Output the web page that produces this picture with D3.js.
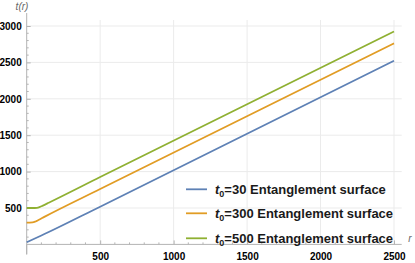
<!DOCTYPE html>
<html lang="en">
<head>
    <meta charset="UTF-8">
    <title>t(r) Entanglement surface</title>
    <script src="https://d3js.org/d3.v7.min.js"></script>
    <style>
        body {
            margin: 0;
            background-color: white;
        }
        svg text {
            font-family: "Liberation Sans", Arial, sans-serif;
        }
    </style>
</head>
<body>
    <div id="chart"></div>
    <script>
        // values
        const xTicks = [500, 1000, 1500, 2000, 2500];
        const yTicks = [500, 1000, 1500, 2000, 2500, 3000];

        const rBlue = [0, 100, 500, 2500];
        const tBlue = [30, 122, 518, 2523];

        const rOrange = [0, 20, 40, 60, 80, 120, 500, 2500];
        const tOrange = [300, 300, 302, 315, 335, 378, 761, 2762];

        const rGreen = [0, 40, 70, 90, 110, 150, 500, 2500];
        const tGreen = [500, 500, 503, 515, 533, 572, 925, 2925];

        const seriesLabels = ["30", "300", "500"];
        const colors = ["#5e81b5", "#e19c24", "#8fb032"];

        const width = 415, height = 263;

        const x = d3.scaleLinear().domain([0, 2500]).range([26.7, 394]);
        const y = d3.scaleLinear().domain([0, 3000]).range([244.4, 26]);

        const svg = d3.select("#chart").append("svg")
            .attr("width", width)
            .attr("height", height);

        const plotTop = 20, plotRight = 401.7;

        // grid lines
        svg.append("g").selectAll("line.gx")
            .data(xTicks)
            .join("line")
            .attr("x1", d => x(d)).attr("x2", d => x(d))
            .attr("y1", plotTop).attr("y2", y(0))
            .attr("stroke", "#ebebeb").attr("stroke-width", 1);
        svg.append("g").selectAll("line.gy")
            .data(yTicks)
            .join("line")
            .attr("x1", x(0)).attr("x2", plotRight)
            .attr("y1", d => y(d)).attr("y2", d => y(d))
            .attr("stroke", "#ebebeb").attr("stroke-width", 1);

        // axes (ticks inward like Mathematica)
        const fmt = d3.format("d");
        const xAxis = svg.append("g")
            .attr("transform", `translate(0,${y(0)})`)
            .call(d3.axisBottom(x).tickValues(xTicks).tickFormat(fmt).tickSize(-4).tickPadding(9));
        const yAxis = svg.append("g")
            .attr("transform", `translate(${x(0)},0)`)
            .call(d3.axisLeft(y).tickValues(yTicks).tickFormat(fmt).tickSize(-4).tickPadding(5));

        // minor ticks
        const minorX = d3.range(100, 2600, 100).filter(v => v % 500 !== 0);
        const minorY = d3.range(100, 3100, 100).filter(v => v % 500 !== 0);
        xAxis.selectAll(".minor")
            .data(minorX)
            .join("line")
            .attr("x1", d => x(d)).attr("x2", d => x(d))
            .attr("y1", 0).attr("y2", -2)
            .attr("stroke", "#b3b3b3");
        yAxis.selectAll(".minor")
            .data(minorY)
            .join("line")
            .attr("y1", d => y(d)).attr("y2", d => y(d))
            .attr("x1", 0).attr("x2", 2)
            .attr("stroke", "#b3b3b3");

        [xAxis, yAxis].forEach(a => {
            a.select(".domain").attr("stroke", "#b3b3b3");
            a.selectAll(".tick line").attr("stroke", "#b3b3b3");
            a.selectAll(".tick text")
                .attr("fill", "#000")
                .style("font-size", "10px")
                .style("font-weight", "bold");
        });
        xAxis.select(".domain").attr("d", `M${x(0)},0H${plotRight}`);
        yAxis.select(".domain").attr("d", `M0,${y(0) + 10}V${plotTop - 7}`);
        xAxis.append("line")
            .attr("x1", x(0)).attr("x2", x(0))
            .attr("y1", 0).attr("y2", 10)
            .attr("stroke", "#b3b3b3");

        // axis labels
        svg.append("text")
            .attr("x", 22).attr("y", 10)
            .attr("text-anchor", "middle")
            .attr("fill", "#666")
            .style("font-size", "10px")
            .style("font-style", "italic")
            .text("t(r)");
        svg.append("text")
            .attr("x", 410).attr("y", 242)
            .attr("text-anchor", "middle")
            .attr("fill", "#666")
            .style("font-size", "10px")
            .style("font-style", "italic")
            .text("r");

        // curves
        const series = [
            rBlue.map((r, i) => [r, tBlue[i]]),
            rOrange.map((r, i) => [r, tOrange[i]]),
            rGreen.map((r, i) => [r, tGreen[i]])
        ];
        const line = d3.line()
            .x(d => x(d[0]))
            .y(d => y(d[1]))
            .curve(d3.curveMonotoneX);
        svg.append("g").selectAll("path")
            .data(series)
            .join("path")
            .attr("d", line)
            .attr("fill", "none")
            .attr("stroke", (d, i) => colors[i])
            .attr("stroke-width", 1.8);

        // legend
        const legendY = [189.3, 213.3, 238.3];
        const legend = svg.append("g").selectAll("g")
            .data(seriesLabels)
            .join("g")
            .attr("transform", (d, i) => `translate(186,${legendY[i]})`);
        legend.append("line")
            .attr("x1", 0).attr("x2", 21)
            .attr("stroke", (d, i) => colors[i])
            .attr("stroke-width", 1.8);
        const lt = legend.append("text")
            .attr("x", 29).attr("y", 4.5)
            .attr("fill", "#1a1a1a")
            .style("font-size", "13px")
            .style("font-weight", "bold");
        lt.append("tspan").style("font-style", "italic").text("t");
        lt.append("tspan").attr("dy", 3).style("font-size", "9px").text("0");
        lt.append("tspan").attr("dy", -3).text(d => "=" + d + " Entanglement surface");
    </script>
</body>
</html>
